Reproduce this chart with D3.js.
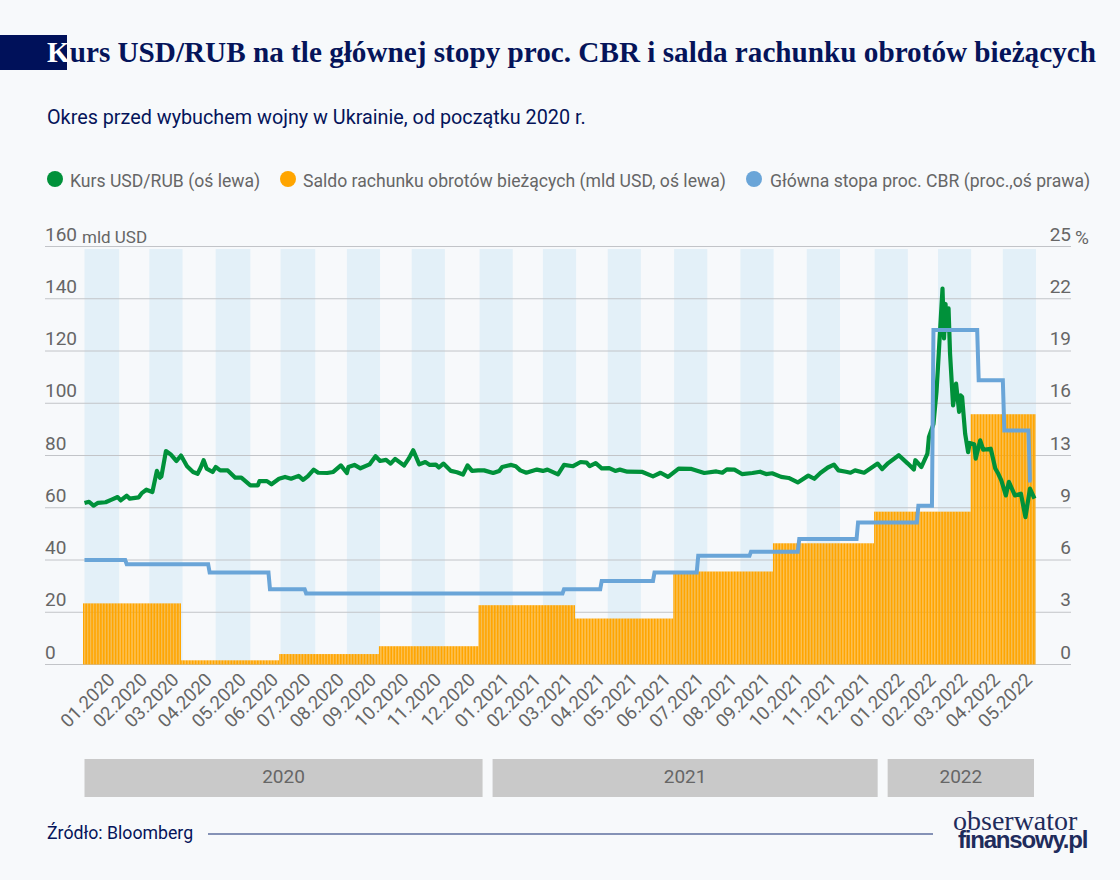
<!DOCTYPE html>
<html lang="pl">
<head>
<meta charset="utf-8">
<script src="https://cdn.jsdelivr.net/npm/d3@7"></script>
<style>
  html, body { margin: 0; background: #f7f9fb; }
  svg { display: block; }
  text { font-family: Roboto, sans-serif; }
</style>
</head>
<body>
<svg id="chart" width="1120" height="880"></svg>
<script>
// months on the axis, with number of trading days in each one
const monthLabels = ['01.2020','02.2020','03.2020','04.2020','05.2020','06.2020','07.2020','08.2020','09.2020','10.2020','11.2020','12.2020',
  '01.2021','02.2021','03.2021','04.2021','05.2021','06.2021','07.2021','08.2021','09.2021','10.2021','11.2021','12.2021',
  '01.2022','02.2022','03.2022','04.2022','05.2022'];
const monthDays = [23,20,22,22,23,20,23,21,22,21,22,23, 22,20,22,21,22,22,22,22,22,22,22,23, 22,20,22,21,22];
const years = ['2020','2021','2022'];

// saldo rachunku obrotow biezacych, one value per quarter (mld USD)
const currentAccount = [23.4,1.6,4,7, 22.7,17.6,35.6,46.4, 58.5,95.8];

// glowna stopa CBR: day of change and rate from that day on
const rateDay = [0,28,83,123,147,318,343,378,407,442,474,513,553,563,593,610,627];
const rateValue = [6.25,6,5.5,4.5,4.25,4.5,5,5.5,6.5,6.75,7.5,8.5,9.5,20,17,14,11];

// USD/RUB: trading day and value
const usdDay = [0,3,6,9,14,18,22,24,28,30,36,38,41,45,48,50,51,54,57,61,64,68,72,75,77,79,81,85,87,90,95,100,104,110,115,116,121,124,129,133,137,142,145,148,152,155,
  161,165,170,174,175,179,183,189,193,196,200,203,206,212,215,218,222,226,229,233,235,238,243,247,251,254,257,261,265,271,275,277,283,286,289,293,300,304,307,314,318,324,329,333,335,339,343,348,352,
  355,360,370,377,382,387,394,402,411,419,423,426,431,436,443,448,452,456,462,467,473,480,484,488,493,497,500,505,508,511,517,526,529,533,
  540,546,550,551,555,559,560,563,565,566,567,569,570,571,572,573,574,576,578,580,581,582,584,586,587,590,591,594,596,601,604,606,608,611,613,617,621,624,627,630];
const usdValue = [61.8,62.3,60.8,61.9,62.1,63.1,64.1,62.8,64.6,63.5,64,65.6,66.9,66,74.1,71.5,72,81.7,80.5,77.9,80,75.9,73.7,73,75.3,78.2,75,73.7,75.6,74.3,74.3,71.5,71.5,68.6,68.6,70.2,70.2,69,71.1,71.8,71.1,72.2,70.7,72,74.6,73.4,
  73.3,73.7,76.2,73.3,75.6,76.4,75.1,76.6,79.7,77.9,78.3,76.9,78.7,76.2,78.8,82,76.6,77.5,76.4,76.5,75.4,76.9,74.1,73.6,72.7,76.2,74.1,74.3,74.3,73.3,74.1,75.6,76.4,75.9,74.3,73.4,74.6,74.1,74.6,72.8,76.4,75.9,77.5,77.3,75.9,77.1,75.1,75.2,74.1,
  74.6,73.8,73.7,72,73.4,71.8,75,74.9,73.3,73.9,73.4,74.7,74.6,72.9,73.3,73.8,72.9,73.2,71.8,71.4,69.7,72.3,71.1,73.3,75.4,76.5,74.3,73.8,73.4,74.3,73.4,76.9,74.8,77.1,
  80.1,76.9,74.6,78.2,75.6,80.7,87.1,92,104.3,113.9,124.1,143.9,124.8,138,128,136.3,119,99.2,107.5,96.7,103,102.4,88.4,81.3,84.8,84.3,78.8,85.8,82.2,82.6,75,73,70.5,64.7,69.9,64.7,65.4,56.4,67.3,63.5];

const leftTicks = [0,20,40,60,80,100,120,140,160];
const rightTicks = [0,3,6,9,13,16,19,22,25];

const colors = { green: '#00913a', orange: '#ffa500', blue: '#6aa5d8', navy: '#05145a', gray: '#666', grid: '#c2c4c8', band: '#e3f0f8', year: '#c9c9c9' };

const totalDays = d3.sum(monthDays);
const monthStart = d3.cumsum([0].concat(monthDays));

const svg = d3.select('#chart');
const x = d3.scaleLinear().domain([0, totalDays]).range([84.5, 1036]);
const xBar = d3.scaleBand().domain(d3.range(totalDays)).range([83, 1035.5]).paddingInner(0.1);
const y = d3.scaleLinear().domain([0, 160]).range([664.5, 246.5]);
const yRate = d3.scaleLinear().domain([0, 25]).range([664.5, 246.5]);

// page head
svg.append('rect').attr('x', 0).attr('y', 35).attr('width', 67).attr('height', 35).attr('fill', '#00115a');
const title = svg.append('text').attr('x', 47).attr('y', 62)
  .style('font-family', '"Liberation Serif", serif').style('font-weight', 700).style('font-size', '29.2px')
  .attr('fill', colors.navy);
title.append('tspan').attr('fill', '#fff').text('K');
title.append('tspan').text('urs USD/RUB na tle głównej stopy proc. CBR i salda rachunku obrotów bieżących');

svg.append('text').attr('x', 47).attr('y', 124).attr('fill', colors.navy)
  .style('font-size', '19.8px').text('Okres przed wybuchem wojny w Ukrainie, od początku 2020 r.');

// legend
const legend = [
  { label: 'Kurs USD/RUB (oś lewa)', color: colors.green, cx: 55, tx: 70 },
  { label: 'Saldo rachunku obrotów bieżących (mld USD, oś lewa)', color: colors.orange, cx: 288, tx: 303 },
  { label: 'Główna stopa proc. CBR (proc.,oś prawa)', color: colors.blue, cx: 754, tx: 770 }
];
legend.forEach(d => {
  svg.append('circle').attr('cx', d.cx).attr('cy', 179).attr('r', 8).attr('fill', d.color);
  svg.append('text').attr('x', d.tx).attr('y', 186.5).attr('fill', colors.gray).style('font-size', '17.6px').text(d.label);
});

// every second month shaded
svg.append('g').selectAll('rect').data(monthLabels.filter((d, i) => i % 2 === 0)).join('rect')
  .attr('x', d => x(monthStart[monthLabels.indexOf(d)]))
  .attr('width', d => x(monthStart[monthLabels.indexOf(d) + 1]) - x(monthStart[monthLabels.indexOf(d)]))
  .attr('y', 249).attr('height', 664.5 - 249).attr('fill', colors.band);

// grid
svg.append('g').selectAll('line').data(leftTicks).join('line')
  .attr('x1', 45).attr('x2', 1071).attr('y1', d => y(d)).attr('y2', d => y(d))
  .attr('stroke', colors.grid).attr('stroke-width', 1);

// bars: one per trading day, the quarter value repeated
const dailyAccount = [];
monthDays.forEach((n, m) => {
  for (let i = 0; i < n; i++) dailyAccount.push(currentAccount[Math.floor(m / 3)]);
});
svg.append('g').selectAll('rect').data(dailyAccount).join('rect')
  .attr('x', (d, i) => xBar(i)).attr('width', xBar.bandwidth())
  .attr('y', d => y(d)).attr('height', d => y(0) - y(d)).attr('fill', colors.orange);

// green line
svg.append('path').datum(usdDay.map((d, i) => [d, usdValue[i]]))
  .attr('fill', 'none').attr('stroke', colors.green).attr('stroke-width', 4.2).attr('stroke-linejoin', 'round')
  .attr('d', d3.line().x(d => x(d[0])).y(d => y(d[1])));

// blue line, daily so that a change takes one day
const dailyRate = d3.range(0, 629).map(d => [d, rateValue[d3.bisectRight(rateDay, d) - 1]]);
svg.append('path').datum(dailyRate)
  .attr('fill', 'none').attr('stroke', colors.blue).attr('stroke-width', 4)
  .attr('d', d3.line().x(d => x(d[0])).y(d => yRate(d[1])));

// axis labels
svg.append('g').selectAll('text').data(leftTicks).join('text')
  .attr('x', 45).attr('y', d => y(d) - 6).attr('fill', colors.gray).style('font-size', '19px').text(d => d);
svg.append('text').attr('x', 82).attr('y', 243).attr('fill', colors.gray).style('font-size', '17px').text('mld USD');

svg.append('g').selectAll('text').data(rightTicks).join('text')
  .attr('x', 1071).attr('y', (d, i) => y(i * 20) - 6).attr('text-anchor', 'end')
  .attr('fill', colors.gray).style('font-size', '19px').text(d => d);
svg.append('text').attr('x', 1075).attr('y', 244).attr('fill', colors.gray).style('font-size', '19px').text('%');

svg.append('g').selectAll('text').data(monthLabels).join('text')
  .attr('text-anchor', 'end').attr('fill', colors.gray).style('font-size', '18.5px')
  .attr('transform', (d, i) => `translate(${x((monthStart[i] + monthStart[i + 1]) / 2) + 14},681) rotate(-45)`)
  .text(d => d);

// year strip
years.forEach((d, i) => {
  const x0 = x(monthStart[i * 12]) + (i ? 13 : 0);
  const x1 = i === 2 ? x(totalDays) - 2 : x(monthStart[(i + 1) * 12]) + 3;
  svg.append('rect').attr('x', x0).attr('y', 759).attr('width', x1 - x0).attr('height', 38).attr('fill', colors.year);
  svg.append('text').attr('x', (x0 + x1) / 2).attr('y', 783).attr('text-anchor', 'middle')
    .attr('fill', colors.gray).style('font-size', '19px').text(d);
});

// footer
svg.append('text').attr('x', 47).attr('y', 839).attr('fill', colors.navy).style('font-size', '17.7px').text('Źródło: Bloomberg');
svg.append('line').attr('x1', 208).attr('x2', 933).attr('y1', 834).attr('y2', 834).attr('stroke', '#5f6f9f').attr('stroke-width', 1.5);
svg.append('text').attr('x', 953).attr('y', 830).attr('fill', '#1f2c5c')
  .style('font-family', '"Liberation Serif", serif').style('font-size', '28px').text('obserwator');
svg.append('text').attr('x', 958).attr('y', 848).attr('fill', '#1f2c5c')
  .style('font-family', '"Liberation Sans", sans-serif').style('font-weight', 700).style('font-size', '24px').style('letter-spacing', '-1.2px').text('finansowy.pl');
</script>
</body>
</html>
